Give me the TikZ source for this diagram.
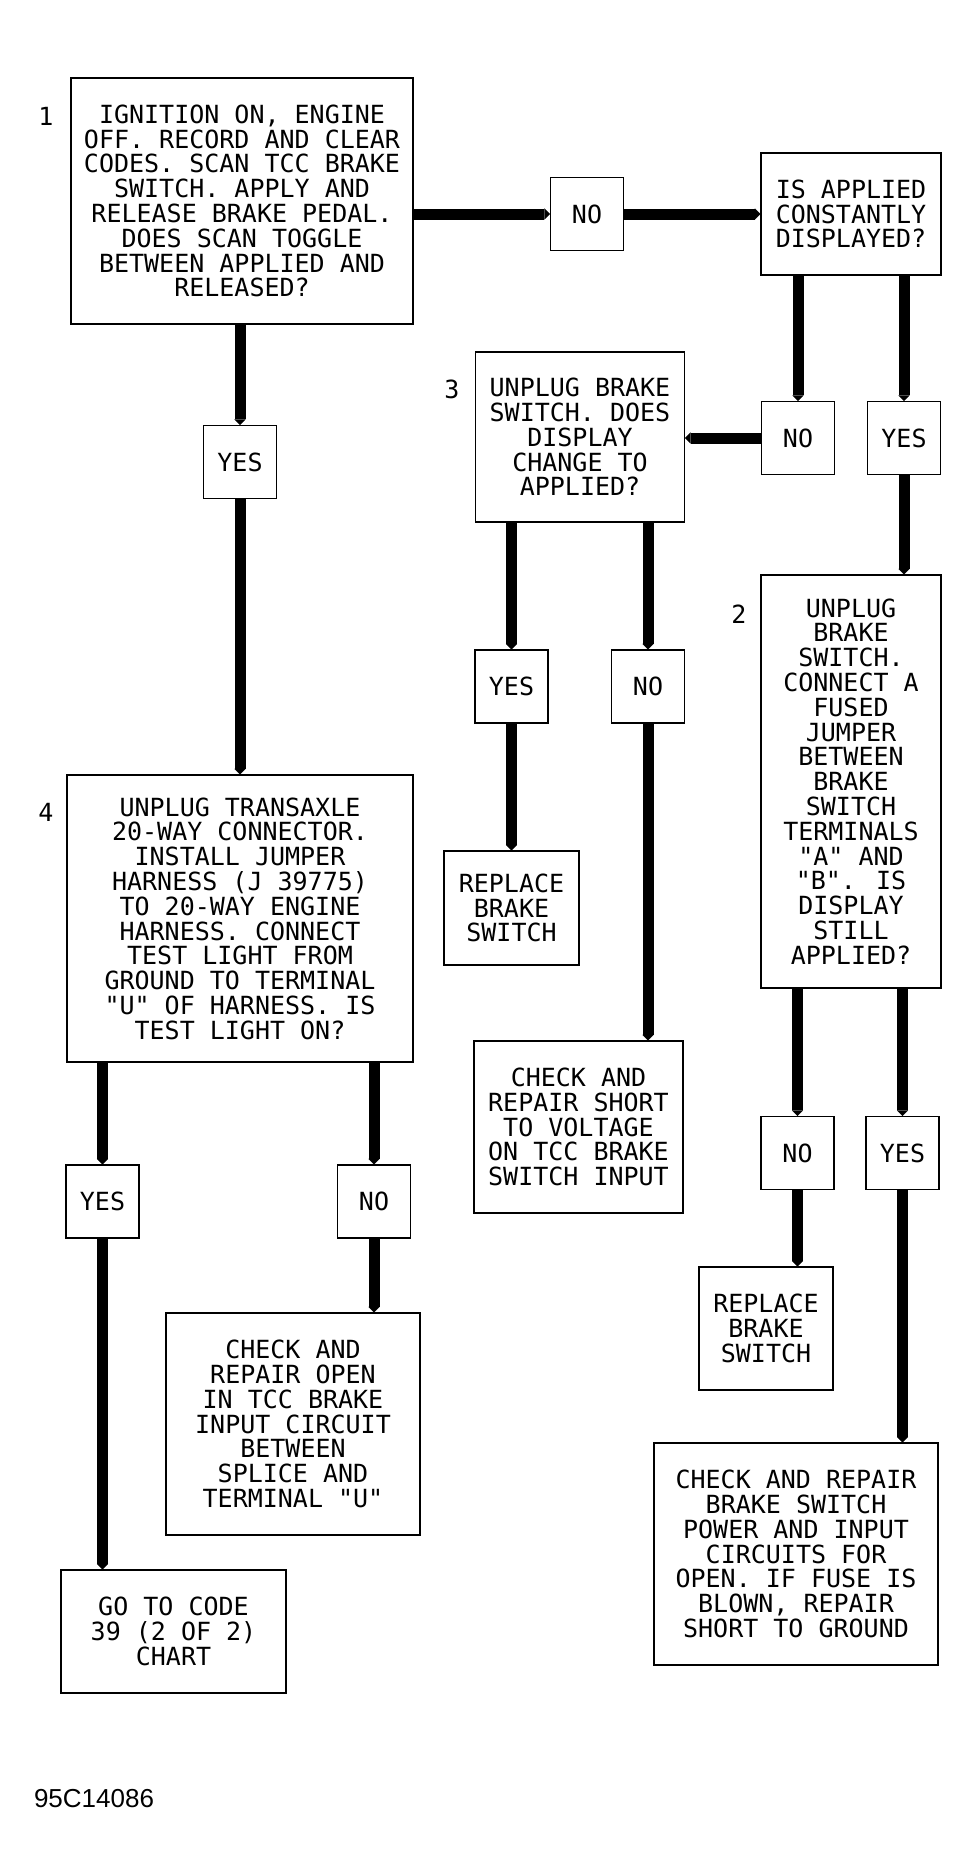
\documentclass[tikz,border=0pt]{standalone}
\usepackage{fontspec}
\newfontfamily\plotfont{DejaVu Sans Mono}
\newfontfamily\fignofont{Liberation Sans}
\usetikzlibrary{arrows.meta}

\begin{document}
\begin{tikzpicture}[x=1pt,y=-1pt,
	box/.style={draw,line width=1.3pt,inner sep=0pt,align=center,font=\plotfont\fontsize{25}{24.8}\selectfont},
	answer/.style={box,minimum width=73pt,minimum height=73pt},
	stepno/.style={font=\plotfont\fontsize{25}{25}\selectfont},
	flow/.style={line width=11pt,-{Triangle[length=5.5pt,width=11pt,line width=0.1pt]}}]
	\useasboundingbox (0,0) rectangle (970,1874);
	
	%questions
	\node[box,minimum width=342pt,minimum height=246pt] (cond1) at (242,201)
	{IGNITION ON, ENGINE\\OFF. RECORD AND CLEAR\\CODES. SCAN TCC BRAKE\\SWITCH. APPLY AND\\RELEASE BRAKE PEDAL.\\DOES SCAN TOGGLE\\BETWEEN APPLIED AND\\RELEASED?};
	\node[box,minimum width=180pt,minimum height=122pt] (isapp) at (851,214)
	{IS APPLIED\\CONSTANTLY\\DISPLAYED?};
	\node[box,minimum width=209pt,minimum height=170pt] (cond3) at (580,437)
	{UNPLUG BRAKE\\SWITCH. DOES\\DISPLAY\\CHANGE TO\\APPLIED?};
	\node[box,minimum width=180pt,minimum height=413pt] (cond2) at (851,781.5)
	{UNPLUG\\BRAKE\\SWITCH.\\CONNECT A\\FUSED\\JUMPER\\BETWEEN\\BRAKE\\SWITCH\\TERMINALS\\"A" AND\\"B". IS\\DISPLAY\\STILL\\APPLIED?};
	\node[box,minimum width=346pt,minimum height=287pt] (cond4) at (240,918.5)
	{UNPLUG TRANSAXLE\\20-WAY CONNECTOR.\\INSTALL JUMPER\\HARNESS (J 39775)\\TO 20-WAY ENGINE\\HARNESS. CONNECT\\TEST LIGHT FROM\\GROUND TO TERMINAL\\"U" OF HARNESS. IS\\TEST LIGHT ON?};
	
	%step numbers
	\node[stepno] (n1) at (46,116) {1};
	\node[stepno] (n2) at (739,614) {2};
	\node[stepno] (n3) at (452,389) {3};
	\node[stepno] (n4) at (46,812) {4};
	
	%results
	\node[box,minimum width=135pt,minimum height=114pt] (replmid) at (511.5,908)
	{REPLACE\\BRAKE\\SWITCH};
	\node[box,minimum width=134pt,minimum height=123pt] (replright) at (766,1328.5)
	{REPLACE\\BRAKE\\SWITCH};
	\node[box,minimum width=209pt,minimum height=172pt] (short) at (578.5,1127)
	{CHECK AND\\REPAIR SHORT\\TO VOLTAGE\\ON TCC BRAKE\\SWITCH INPUT};
	\node[box,minimum width=254pt,minimum height=222pt] (open) at (293,1424)
	{CHECK AND\\REPAIR OPEN\\IN TCC BRAKE\\INPUT CIRCUIT\\BETWEEN\\SPLICE AND\\TERMINAL "U"};
	\node[box,minimum width=225pt,minimum height=123pt] (goto) at (173.5,1631.5)
	{GO TO CODE\\39 (2 OF 2)\\CHART};
	\node[box,minimum width=284pt,minimum height=222pt] (power) at (796,1554)
	{CHECK AND REPAIR\\BRAKE SWITCH\\POWER AND INPUT\\CIRCUITS FOR\\OPEN. IF FUSE IS\\BLOWN, REPAIR\\SHORT TO GROUND};
	
	%yes/no boxes
	\foreach \n/\x/\y/\t in {no1/587/214/NO, yes1/240/462/YES, no2/798/438/NO, yes2/904/438/YES,
		yes3/511.5/686.5/YES, no3/648/686.5/NO, no4/797.5/1153/NO, yes4/902.5/1153/YES,
		yes5/102.5/1201.5/YES, no5/374/1201.5/NO}
	\node[answer] (\n) at (\x,\y) {\t};
	
	%step 1
	\draw[flow] (cond1.east |- no1) -- (no1.west);
	\draw[flow] (no1.east) -- (isapp.west |- no1);
	\draw[flow] (cond1.south -| yes1) -- (yes1.north);
	\draw[flow] (yes1.south) -- (cond4.north -| yes1);
	%applied constantly
	\draw[flow] (isapp.south -| no2) -- (no2.north);
	\draw[flow] (isapp.south -| yes2) -- (yes2.north);
	\draw[flow] (no2.west) -- (cond3.east |- no2);
	\draw[flow] (yes2.south) -- (cond2.north -| yes2);
	%step 3
	\draw[flow] (cond3.south -| yes3) -- (yes3.north);
	\draw[flow] (cond3.south -| no3) -- (no3.north);
	\draw[flow] (yes3.south) -- (replmid.north -| yes3);
	\draw[flow] (no3.south) -- (short.north -| no3);
	%step 2
	\draw[flow] (cond2.south -| no4) -- (no4.north);
	\draw[flow] (cond2.south -| yes4) -- (yes4.north);
	\draw[flow] (no4.south) -- (replright.north -| no4);
	\draw[flow] (yes4.south) -- (power.north -| yes4);
	%step 4
	\draw[flow] (cond4.south -| yes5) -- (yes5.north);
	\draw[flow] (cond4.south -| no5) -- (no5.north);
	\draw[flow] (yes5.south) -- (goto.north -| yes5);
	\draw[flow] (no5.south) -- (open.north -| no5);
	
	\node[font=\fignofont\fontsize{26}{26}\selectfont] (figno) at (94,1799) {95C14086};
\end{tikzpicture}
\end{document}
